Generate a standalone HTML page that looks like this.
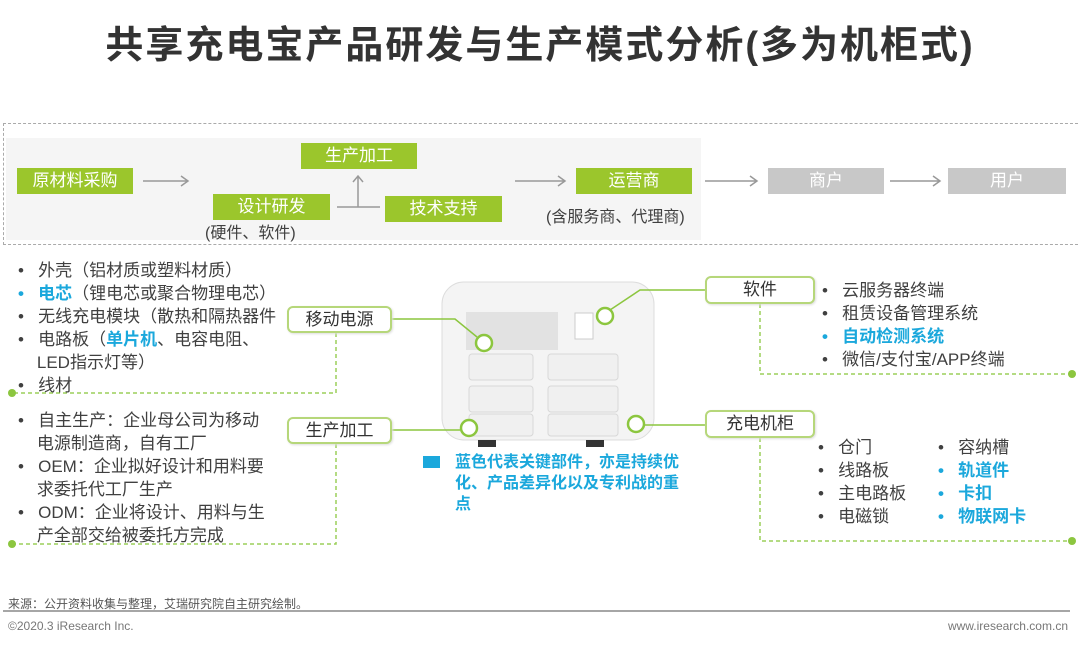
<!DOCTYPE html>
<html><head><meta charset="utf-8"><style>
*{margin:0;padding:0;box-sizing:border-box}
body{width:1080px;height:646px;background:#fff;position:relative;overflow:hidden;font-family:"Liberation Sans","Noto Sans CJK SC",sans-serif;color:#404040}
.a{position:absolute;white-space:nowrap}
.g{position:absolute;background:#9bc62c;color:#fff;font-size:17px;text-align:center;line-height:26px;height:26px}
.gr{position:absolute;background:#c8c8c8;color:#fff;font-size:17px;text-align:center;line-height:26px;height:26px}
.lb{position:absolute;border:2px solid #b6d77a;border-radius:6px;background:#fff;font-size:17px;text-align:center;color:#333;box-shadow:1px 1px 2px #ddd}
.li{font-size:17px;line-height:23px;color:#404040}
.b{color:#1ba8dc;font-weight:bold}
</style></head><body>
<div class="a" style="left:0;width:1080px;top:14px;text-align:center;font-size:38px;font-weight:bold;color:#333;letter-spacing:2px">共享充电宝产品研发与生产模式分析(多为机柜式)</div>

<div class="a" style="left:6px;top:138px;width:695px;height:102px;background:#f5f5f5"></div>
<div class="a" style="left:3px;top:123px;width:1080px;height:122px;border:1.5px dashed #aaa"></div>

<div class="g" style="left:17px;top:168px;width:116px">原材料采购</div>
<div class="g" style="left:301px;top:143px;width:116px">生产加工</div>
<div class="g" style="left:213px;top:194px;width:117px">设计研发</div>
<div class="g" style="left:385px;top:196px;width:117px">技术支持</div>
<div class="g" style="left:576px;top:168px;width:116px">运营商</div>
<div class="gr" style="left:768px;top:168px;width:116px">商户</div>
<div class="gr" style="left:948px;top:168px;width:118px">用户</div>
<div class="a" style="left:205px;top:219px;font-size:16px">(硬件、软件)</div>
<div class="a" style="left:546px;top:203px;font-size:16px">(含服务商、代理商)</div>

<svg class="a" style="left:0;top:0" width="1080" height="646">
<g stroke="#999" stroke-width="1.5" fill="none">
<path d="M143 181H188M181 176L188 181L181 186"/>
<path d="M515 181H565M558 176L565 181L558 186"/>
<path d="M705 181H757M750 176L757 181L750 186"/>
<path d="M890 181H940M933 176L940 181L933 186"/>
<path d="M337 207H380M358 207V176M353 182L358 176L363 182"/>
</g>
<g stroke="#9bcf5a" stroke-width="1.5" fill="none" stroke-dasharray="4,3">
<path d="M336 333V393H12"/>
<path d="M336 444V544H12"/>
<path d="M760 304V374H1072"/>
<path d="M760 438V541H1072"/>
</g>
<g fill="#8cc63f"><circle cx="12" cy="393" r="4"/><circle cx="12" cy="544" r="4"/><circle cx="1072" cy="374" r="4"/><circle cx="1072" cy="541" r="4"/></g>
<rect x="442" y="282" width="212" height="158" rx="22" fill="#f4f4f4" stroke="#ddd"/>
<rect x="466" y="312" width="92" height="38" fill="#e2e2e2"/>
<rect x="575" y="313" width="18" height="26" fill="#fff" stroke="#ccc"/>
<g fill="#f0f0f0" stroke="#d8d8d8">
<rect x="469" y="354" width="64" height="26" rx="3"/><rect x="548" y="354" width="70" height="26" rx="3"/>
<rect x="469" y="386" width="64" height="26" rx="3"/><rect x="548" y="386" width="70" height="26" rx="3"/>
<rect x="469" y="414" width="64" height="22" rx="3"/><rect x="548" y="414" width="70" height="22" rx="3"/>
</g>
<rect x="478" y="440" width="18" height="7" fill="#333"/><rect x="586" y="440" width="18" height="7" fill="#333"/>
<g stroke="#8cc63f" stroke-width="1.5" fill="none">
<path d="M392 319H455L477 337"/>
<path d="M392 430H460"/>
<path d="M705 290H640L610 310"/>
<path d="M705 425H640"/>
</g>
<g fill="#fff" stroke="#8cc63f" stroke-width="2.5">
<circle cx="484" cy="343" r="8"/><circle cx="605" cy="316" r="8"/><circle cx="469" cy="428" r="8"/><circle cx="636" cy="424" r="8"/>
</g>
<rect x="423" y="456" width="17" height="12" fill="#1ba8dc"/>
<line x1="3" y1="611" x2="1070" y2="611" stroke="#888" stroke-width="1.5"/>
</svg>

<div class="lb" style="left:287px;top:306px;width:105px;height:27px;line-height:23px">移动电源</div>
<div class="lb" style="left:287px;top:417px;width:105px;height:27px;line-height:23px">生产加工</div>
<div class="lb" style="left:705px;top:276px;width:110px;height:28px;line-height:24px">软件</div>
<div class="lb" style="left:705px;top:410px;width:110px;height:28px;line-height:24px">充电机柜</div>

<div class="a li" style="left:18px;top:259px">
•&nbsp;&nbsp;&nbsp;外壳（铝材质或塑料材质）<br>
<span class="b">•</span>&nbsp;&nbsp;&nbsp;<span class="b">电芯</span>（锂电芯或聚合物理电芯）<br>
•&nbsp;&nbsp;&nbsp;无线充电模块（散热和隔热器件<br>
•&nbsp;&nbsp;&nbsp;电路板（<span class="b">单片机</span>、电容电阻、<br>
&nbsp;&nbsp;&nbsp;&nbsp;LED指示灯等）<br>
•&nbsp;&nbsp;&nbsp;线材</div>
<div class="a li" style="left:18px;top:409px">
•&nbsp;&nbsp;&nbsp;自主生产：企业母公司为移动<br>
&nbsp;&nbsp;&nbsp;&nbsp;电源制造商，自有工厂<br>
•&nbsp;&nbsp;&nbsp;OEM：企业拟好设计和用料要<br>
&nbsp;&nbsp;&nbsp;&nbsp;求委托代工厂生产<br>
•&nbsp;&nbsp;&nbsp;ODM：企业将设计、用料与生<br>
&nbsp;&nbsp;&nbsp;&nbsp;产全部交给被委托方完成</div>

<div class="a li" style="left:822px;top:279px">
•&nbsp;&nbsp;&nbsp;云服务器终端<br>
•&nbsp;&nbsp;&nbsp;租赁设备管理系统<br>
<span class="b">•&nbsp;&nbsp;&nbsp;自动检测系统</span><br>
•&nbsp;&nbsp;&nbsp;微信/支付宝/APP终端</div>
<div class="a li" style="left:818px;top:436px">
•&nbsp;&nbsp;&nbsp;仓门<br>•&nbsp;&nbsp;&nbsp;线路板<br>•&nbsp;&nbsp;&nbsp;主电路板<br>•&nbsp;&nbsp;&nbsp;电磁锁</div>
<div class="a li" style="left:938px;top:436px">
•&nbsp;&nbsp;&nbsp;容纳槽<br><span class="b">•&nbsp;&nbsp;&nbsp;轨道件<br>•&nbsp;&nbsp;&nbsp;卡扣<br>•&nbsp;&nbsp;&nbsp;物联网卡</span></div>

<div class="a b" style="left:455px;top:452px;font-size:16px;line-height:21px">蓝色代表关键部件，亦是持续优<br>化、产品差异化以及专利战的重<br>点</div>

<div class="a" style="left:8px;top:595px;font-size:12px;color:#555">来源：公开资料收集与整理，艾瑞研究院自主研究绘制。</div>
<div class="a" style="left:8px;top:619px;font-size:12px;color:#777">©2020.3 iResearch Inc.</div>
<div class="a" style="right:12px;top:619px;font-size:12px;color:#777">www.iresearch.com.cn</div>
</body></html>
